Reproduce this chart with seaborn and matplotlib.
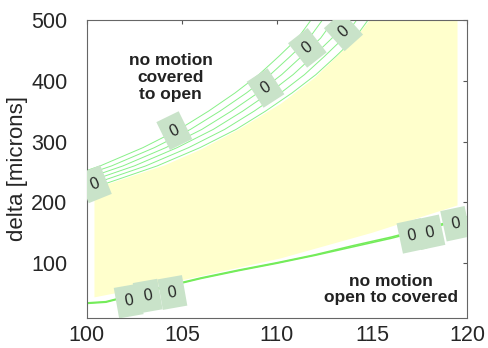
import matplotlib
matplotlib.use('Agg')
import matplotlib.pyplot as plt
import seaborn as sns
import pandas as pd

# upper contour bundle: x positions at fixed delta levels
upper_levels = [200, 230, 260, 290, 320, 350, 380, 410, 440, 470, 500]
upper_x = {
    'c1': [97.8, 100.9, 103.7, 105.95, 107.85, 109.4, 110.8, 112.05, 113.1, 114.1, 114.8],
    'c2': [97.2, 100.3, 103.1, 105.35, 107.25, 108.8, 110.2, 111.45, 112.5, 113.5, 114.2],
    'c3': [96.6, 99.7, 102.5, 104.75, 106.65, 108.2, 109.6, 110.85, 111.9, 112.9, 113.6],
    'c4': [96.0, 99.1, 101.9, 104.15, 106.05, 107.6, 109.0, 110.25, 111.3, 112.3, 113.0],
    'c5': [95.4, 98.5, 101.3, 103.55, 105.45, 107.0, 108.4, 109.65, 110.7, 111.7, 112.4],
    'c6': [94.8, 97.9, 100.7, 102.95, 104.85, 106.4, 107.8, 109.05, 110.1, 111.1, 111.8],
}

# lower contour
lower_x = [100, 101, 102, 104, 106, 108, 110, 112, 114, 116, 118, 120]
lower_y = [34, 36, 44, 60, 75, 88, 100, 113, 127, 141, 157, 174]
lower_y2 = [35, 37, 45, 61, 76, 89, 101, 114, 129, 143, 159, 176]

# yellow region outline
fill_x = [100.4, 100.4, 101.1, 104.1, 106, 108, 110.2, 112, 114, 114.9,
          119.5, 119.5, 115, 110.2, 105, 100.4]
fill_y = [44, 218, 230, 261, 287, 320, 362, 405, 465, 500,
          500, 195, 150, 108, 72, 44]

# contour labels (x, delta, rotation)
up_lab_x = [100.4, 104.6, 109.4, 111.6, 113.5]
up_lab_y = [230, 318, 388, 454, 481]
up_lab_rot = [22, 26, 33, 38, 42]
low_lab_x = [102.2, 103.2, 104.5, 117.1, 118.05, 119.4]
low_lab_y = [38, 46, 52, 145, 151, 165]
low_lab_rot = [10, 10, 10, 12, 12, 12]

sns.set_style('white')
plt.rcParams['font.family'] = ['Liberation Sans', 'DejaVu Sans']

fig = plt.figure(figsize=(4.88, 3.48), dpi=100)
ax = fig.add_axes([0.178, 0.086, 0.779, 0.857])

ax.fill(fill_x, fill_y, color='#ffffcc', lw=0, zorder=1)

rows = []
for name, xs in upper_x.items():
    for xv, yv in zip(xs, upper_levels):
        rows.append({'curve': name, 'x': xv, 'delta': yv})
df_up = pd.DataFrame(rows)
sns.lineplot(data=df_up, x='x', y='delta', units='curve', estimator=None,
             color='#88f088', lw=0.7, sort=False, ax=ax, zorder=2)

df_low = pd.DataFrame({'x': lower_x + lower_x,
                       'delta': lower_y + lower_y2,
                       'curve': ['a'] * len(lower_x) + ['b'] * len(lower_x)})
sns.lineplot(data=df_low, x='x', y='delta', units='curve', estimator=None,
             color='#74ec5a', lw=1.1, ax=ax, zorder=2)

box = dict(boxstyle='square,pad=0.5', fc='#c9e3c9', ec='none')
for xv, yv, r in zip(up_lab_x + low_lab_x, up_lab_y + low_lab_y,
                     up_lab_rot + low_lab_rot):
    ax.text(xv, yv, '0', rotation=r, ha='center', va='center',
            fontsize=11.5, bbox=box, zorder=4, rotation_mode='anchor',
            clip_on=True)

ax.text(104.4, 405, 'no motion\ncovered\nto open', ha='center', va='center',
        fontsize=12.5, fontweight='bold', color='#222222', linespacing=1.15)
ax.text(116.0, 57, 'no motion\nopen to covered', ha='center', va='center',
        fontsize=12.5, fontweight='bold', color='#222222', linespacing=1.15)

ax.set_xlim(100, 120)
ax.set_ylim(10, 500)
ax.set_xticks([100, 105, 110, 115, 120])
ax.set_yticks([100, 200, 300, 400, 500])
ax.set_xlabel('')
ax.set_ylabel('delta [microns]', fontsize=16, labelpad=2)
ax.tick_params(direction='in', length=3, labelsize=15.5, top=True, right=True,
               color='#555555')
ax.tick_params(axis='y', pad=14)
ax.tick_params(axis='x', pad=5)
for s in ax.spines.values():
    s.set_color('#666666')
    s.set_linewidth(0.8)

fig.savefig('out.png', dpi=100)
